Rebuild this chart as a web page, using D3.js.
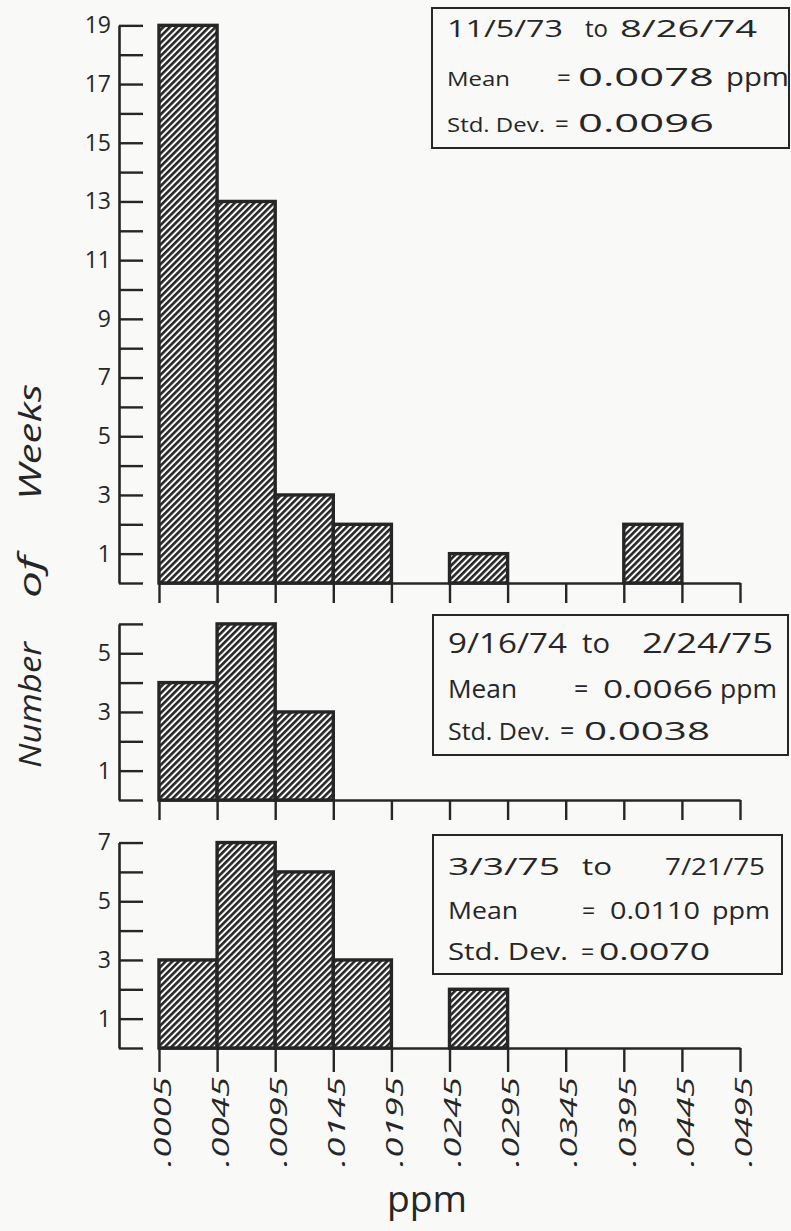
<!DOCTYPE html>
<html>
<head>
<meta charset="utf-8">
<script src="https://cdn.jsdelivr.net/npm/d3@7"></script>
<style>
  html, body { margin: 0; padding: 0; background: #f9f9f8; }
  svg { display: block; }
  text { font-family: "Open Sans", "Noto Sans", sans-serif; fill: #262626; }
</style>
</head>
<body>
<svg id="chart" width="791" height="1231"></svg>
<script>
// Bin edges (ppm) shared by all three histograms
const binEdges = [".0005", ".0045", ".0095", ".0145", ".0195", ".0245",
                  ".0295", ".0345", ".0395", ".0445", ".0495"];

// Weekly counts per bin for each sampling period
const weeksPeriod1 = [19, 13, 3, 2, 0, 1, 0, 0, 2, 0];
const weeksPeriod2 = [4, 6, 3, 0, 0, 0, 0, 0, 0, 0];
const weeksPeriod3 = [3, 7, 6, 3, 0, 2, 0, 0, 0, 0];

// Vertical extent of each panel's axis (number of weeks)
const axisMax = [19, 6, 7];

// Summary statistics shown in each panel's box
const periodStart = ["11/5/73", "9/16/74", "3/3/75"];
const periodEnd   = ["8/26/74", "2/24/75", "7/21/75"];
const meanValues  = ["0.0078", "0.0066", "0.0110"];
const stdValues   = ["0.0096", "0.0038", "0.0070"];

const ink = "#262626";
const svg = d3.select("#chart");

// Diagonal hatching used to fill the bars
const defs = svg.append("defs");
const period = 4.6;
const hatch = defs.append("pattern")
  .attr("id", "hatch")
  .attr("patternUnits", "userSpaceOnUse")
  .attr("width", period).attr("height", period)
  .attr("patternTransform", "rotate(45)");
hatch.append("rect").attr("width", period).attr("height", period).attr("fill", "#fbfbfb");
hatch.append("rect").attr("width", 2.6).attr("height", period).attr("fill", ink);

// Shared horizontal scale over the bin edges
const x = d3.scalePoint().domain(binEdges).range([159, 740]);
const unitPx = 29.35;
const axisX = 119;

const panels = [
  { counts: weeksPeriod1, max: axisMax[0], base: 583, tick: 20 },
  { counts: weeksPeriod2, max: axisMax[1], base: 800, tick: 20 },
  { counts: weeksPeriod3, max: axisMax[2], base: 1048, tick: 24 }
];

panels.forEach((p, pi) => {
  const y = d3.scaleLinear().domain([0, p.max]).range([p.base, p.base - p.max * unitPx]);
  const g = svg.append("g");

  // Bars
  const bins = p.counts.map((c, i) => ({ c, x0: binEdges[i], x1: binEdges[i + 1] }))
                       .filter(d => d.c > 0);
  g.selectAll("rect.bar").data(bins).join("rect")
    .attr("class", "bar")
    .attr("x", d => x(d.x0))
    .attr("width", d => x(d.x1) - x(d.x0))
    .attr("y", d => y(d.c))
    .attr("height", d => y(0) - y(d.c))
    .attr("fill", "url(#hatch)")
    .attr("stroke", ink)
    .attr("stroke-width", 3.4);

  // Vertical axis: ticks point inward, odd values labelled
  const yAxis = d3.axisLeft(y)
    .tickValues(d3.range(0, p.max + 1))
    .tickSizeInner(-24).tickSizeOuter(0).tickPadding(8)
    .tickFormat(d => d % 2 === 1 ? d : "");
  const ya = g.append("g").attr("transform", `translate(${axisX},0)`).call(yAxis);
  ya.select(".domain").attr("stroke", ink).attr("stroke-width", 2.6);
  ya.selectAll(".tick line").attr("stroke", ink).attr("stroke-width", 2.4);
  ya.selectAll(".tick text")
    .attr("font-size", 23).attr("font-family", "Open Sans, sans-serif")
    .attr("fill", ink);

  // Horizontal axis
  const xAxis = d3.axisBottom(x).tickSizeInner(p.tick).tickSizeOuter(0)
    .tickFormat(pi === 2 ? (d => d) : "");
  const xa = g.append("g").attr("transform", `translate(0,${p.base})`).call(xAxis);
  xa.select(".domain").attr("stroke", ink).attr("stroke-width", 2.4);
  xa.selectAll(".tick line").attr("stroke", ink).attr("stroke-width", 2.4);
  if (pi === 2) {
    xa.selectAll(".tick text")
      .attr("font-size", 23).attr("font-style", "italic")
      .attr("font-family", "Open Sans, sans-serif").attr("fill", ink)
      .attr("text-anchor", "end")
      .attr("transform", `translate(3,${p.tick + 5}) rotate(-90)`)
      .attr("x", 0).attr("y", 0).attr("dy", "0.36em")
      .attr("textLength", 90).attr("lengthAdjust", "spacingAndGlyphs");
  }
});

// Statistics boxes
const boxes = [
  { x: 432, y: 8, w: 357, h: 140, lines: [37, 86, 132],
    head: [[447, 116, 23], [585, 23, 23], [620, 137, 23]],
    mean: [[447, 63, 20], [557, 0, 24], [578, 136, 26], [726, 63, 26]],
    std:  [[447, 98, 20], [555, 0, 24], [578, 136, 26]] },
  { x: 433, y: 615, w: 355, h: 140, lines: [653, 698, 740],
    head: [[448, 119, 27], [582, 28, 27], [642, 131, 27]],
    mean: [[448, 69, 25], [574, 0, 25], [603, 110, 26], [720, 57, 26]],
    std:  [[448, 102, 24], [560, 0, 25], [584, 126, 26]] },
  { x: 433, y: 835, w: 349, h: 139, lines: [875, 919, 960],
    head: [[448, 112, 24], [582, 30, 24], [665, 100, 24]],
    mean: [[448, 70, 23], [582, 0, 23], [610, 90, 24], [712, 58, 24]],
    std:  [[448, 120, 23], [581, 0, 23], [599, 111, 24]] }
];

boxes.forEach((b, i) => {
  const g = svg.append("g");
  g.append("rect")
    .attr("x", b.x).attr("y", b.y).attr("width", b.w).attr("height", b.h)
    .attr("fill", "none").attr("stroke", ink).attr("stroke-width", 2);
  const rows = [
    { y: b.lines[0], spec: b.head, text: [periodStart[i], "to", periodEnd[i]] },
    { y: b.lines[1], spec: b.mean, text: ["Mean", "=", meanValues[i], "ppm"] },
    { y: b.lines[2], spec: b.std,  text: ["Std. Dev.", "=", stdValues[i]] }
  ];
  rows.forEach(r => {
    r.text.forEach((t, k) => {
      const [tx, tw, fs] = r.spec[k];
      const el = g.append("text")
        .attr("x", tx).attr("y", r.y)
        .attr("font-size", fs)
        .text(t);
      if (tw > 0) el.attr("textLength", tw).attr("lengthAdjust", "spacingAndGlyphs");
    });
  });
});

// Axis titles
const yTitle = svg.append("text")
  .attr("transform", "translate(41,0) rotate(-90)")
  .attr("font-size", 31).attr("font-style", "italic");
[["Number", -768, 126], ["of", -598, 42], ["Weeks", -500, 116]].forEach(([t, tx, tw]) => {
  yTitle.append("tspan").attr("x", tx).attr("y", 0)
    .attr("textLength", tw).attr("lengthAdjust", "spacingAndGlyphs").text(t);
});

svg.append("text")
  .attr("x", 427).attr("y", 1212)
  .attr("text-anchor", "middle")
  .attr("font-size", 37)
  .attr("textLength", 80).attr("lengthAdjust", "spacingAndGlyphs")
  .text("ppm");
</script>
</body>
</html>
